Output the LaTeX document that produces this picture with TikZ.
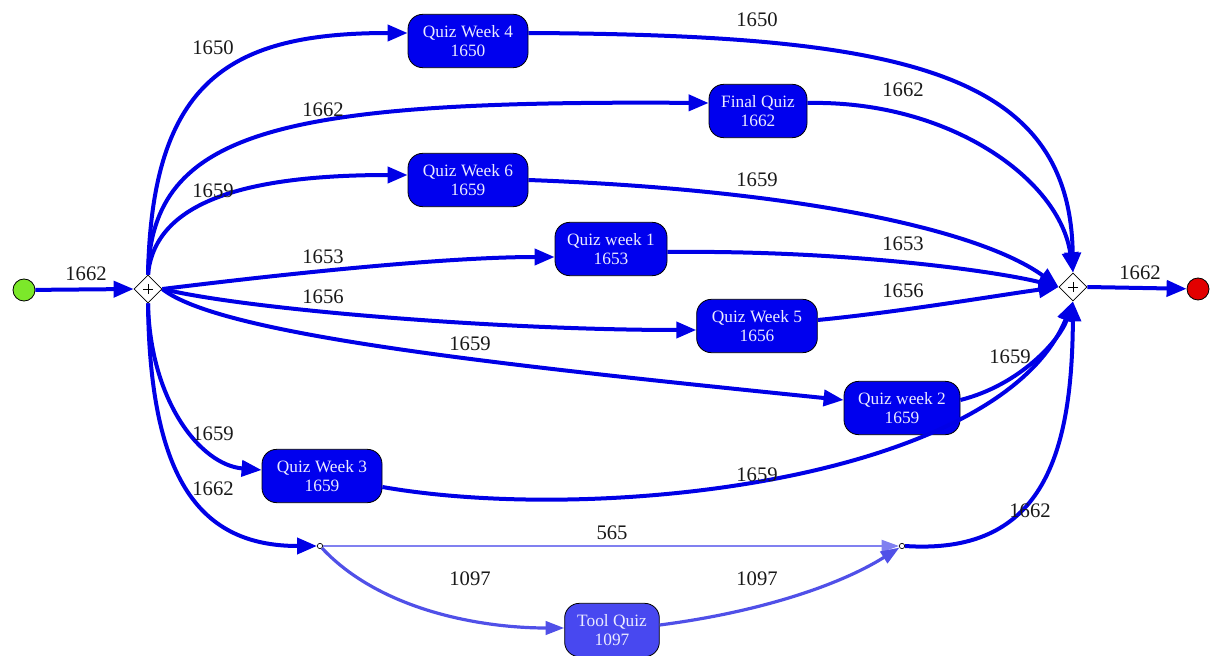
\documentclass[tikz,border=0pt]{standalone}
\usepackage{fontspec}
\setmainfont{Liberation Serif}
\usetikzlibrary{arrows.meta,shapes.geometric,calc}
\definecolor{edgeblue}{RGB}{0,0,230}
\definecolor{nodeblue}{RGB}{0,0,238}
\definecolor{toolblue}{RGB}{72,72,240}
\definecolor{midblue}{RGB}{80,80,232}
\definecolor{lightblue}{RGB}{128,128,240}
\definecolor{txtwhite}{RGB}{235,235,255}
\definecolor{startgreen}{RGB}{124,232,42}
\definecolor{endred}{RGB}{226,0,0}
\tikzset{
  act/.style={draw=black, line width=0.6pt, fill=nodeblue, text=txtwhite, rounded corners=11pt,
    align=center, font=\fontsize{13}{14}\selectfont, minimum height=40pt, inner sep=2pt},
  flow/.style={draw=edgeblue, line width=3pt, -{Triangle[length=15pt,width=12pt]}},
  midflow/.style={draw=midblue, line width=2.4pt, -{Triangle[length=14pt,width=10pt]}},
  thinflow/.style={draw=lightblue, line width=1.5pt, -{Triangle[length=13pt,width=9pt]}},
  lbl/.style={font=\fontsize{15.5}{15.5}\selectfont, text=black!90, inner sep=0pt},
  gate/.style={diamond, draw=black, fill=white, line width=0.6pt, minimum width=21pt, minimum height=21pt, inner sep=0pt},
  dot/.style={circle, draw=black, fill=white, line width=0.5pt, minimum size=4pt, inner sep=0pt},
}
\begin{document}
\begin{tikzpicture}[x=0.75pt,y=-0.75pt]
\useasboundingbox (0,0) rectangle (1211,656);
% events and gateways
\node[circle, draw=black, line width=0.6pt, fill=startgreen, minimum size=16.5pt, inner sep=0pt] (start) at (24,290) {};
\node[circle, draw=black, line width=0.6pt, fill=endred, minimum size=16.5pt, inner sep=0pt] (end) at (1198,289) {};
\node[gate] (split) at (148,289) {};
\node[gate] (join) at (1073,287) {};
\node[dot] (d1) at (320,546) {};
\node[dot] (d2) at (902,546) {};
% activities
\node[act, minimum width=90pt] (q4) at (468,41) {Quiz Week 4\\1650};
\node[act, minimum width=73.5pt] (fq) at (758,111) {Final Quiz\\1662};
\node[act, minimum width=90pt] (q6) at (468,180) {Quiz Week 6\\1659};
\node[act, minimum width=84pt] (q1) at (611,249) {Quiz week 1\\1653};
\node[act, minimum width=90.5pt] (q5) at (757,326) {Quiz Week 5\\1656};
\node[act, minimum width=87pt] (q2) at (902,408) {Quiz week 2\\1659};
\node[act, minimum width=90pt] (q3) at (322,476) {Quiz Week 3\\1659};
\node[act, minimum width=71pt, fill=toolblue] (tq) at (612,630) {Tool Quiz\\1097};
% start / end
\draw[flow] (start) -- (split.west);
\draw[flow] (join.east) -- (end);
% split outgoing
\draw[flow] (split.north) .. controls (152,80) and (230,33) .. (q4.west |- 0,33);
\draw[flow] (split.north) .. controls (152,130) and (280,100) .. (fq.west |- 0,103);
\draw[flow] (split.north) .. controls (155,200) and (250,175) .. (q6.west |- 0,175);
\draw[flow] (split.east) .. controls (300,272) and (450,257) .. (q1.west |- 0,257);
\draw[flow] (split.east) .. controls (250,310) and (500,330) .. (q5.west |- 0,330);
\draw[flow] (split.east) .. controls (220,335) and (500,365) .. (q2.west |- 0,400);
\draw[flow] (split.south) .. controls (150,400) and (200,465) .. (q3.west |- 0,470);
\draw[flow] (split.south) .. controls (150,480) and (200,546) .. (d1.west);
% tool quiz branch
\draw[thinflow] (d1.east) -- (d2.west);
\draw[midflow] (d1) .. controls (380,610) and (480,628) .. (tq.west |- 0,628);
\draw[midflow] (tq.east |- 0,625) .. controls (760,612) and (840,585) .. (d2);
% into join
\draw[flow] (q4.east |- 0,33) .. controls (900,35) and (1070,70) .. (join.north);
\draw[flow] (fq.east |- 0,103) .. controls (950,100) and (1060,180) .. (join.north);
\draw[flow] (q6.east |- 0,180) .. controls (800,190) and (980,230) .. (join.west);
\draw[flow] (q1.east |- 0,252) .. controls (850,250) and (1000,272) .. (join.west);
\draw[flow] (q5.east |- 0,320) .. controls (900,312) and (1000,295) .. (join.west);
\draw[flow] (q2.east |- 0,400) .. controls (1020,385) and (1060,340) .. (join.south);
\draw[flow] (q3.east |- 0,487) .. controls (600,525) and (1000,480) .. (join.south);
\draw[flow] (d2.east) .. controls (1040,555) and (1072,460) .. (join.south);
% gateway markers
\draw[line width=0.5pt] ($(split)+(-5,0)$) -- ($(split)+(5,0)$) ($(split)+(0,-5)$) -- ($(split)+(0,5)$);
\draw[line width=0.5pt] ($(join)+(-5,0)$) -- ($(join)+(5,0)$) ($(join)+(0,-5)$) -- ($(join)+(0,5)$);
% labels
\node[lbl] (l0) at (86,274) {1662};
\node[lbl] (l1) at (213,48) {1650};
\node[lbl] (l2) at (323,110) {1662};
\node[lbl] (l3) at (213,191) {1659};
\node[lbl] (l4) at (323,257) {1653};
\node[lbl] (l5) at (323,297) {1656};
\node[lbl] (l6) at (470,344) {1659};
\node[lbl] (l7) at (213,434) {1659};
\node[lbl] (l8) at (213,489) {1662};
\node[lbl] (l9) at (612,533) {565};
\node[lbl] (l10) at (470,579) {1097};
\node[lbl] (l11) at (757,579) {1097};
\node[lbl] (l12) at (757,20) {1650};
\node[lbl] (l13) at (903,90) {1662};
\node[lbl] (l14) at (757,180) {1659};
\node[lbl] (l15) at (903,244) {1653};
\node[lbl] (l16) at (903,291) {1656};
\node[lbl] (l17) at (1010,357) {1659};
\node[lbl] (l18) at (757,475) {1659};
\node[lbl] (l19) at (1030,511) {1662};
\node[lbl] (l20) at (1140,273) {1662};
\end{tikzpicture}
\end{document}
